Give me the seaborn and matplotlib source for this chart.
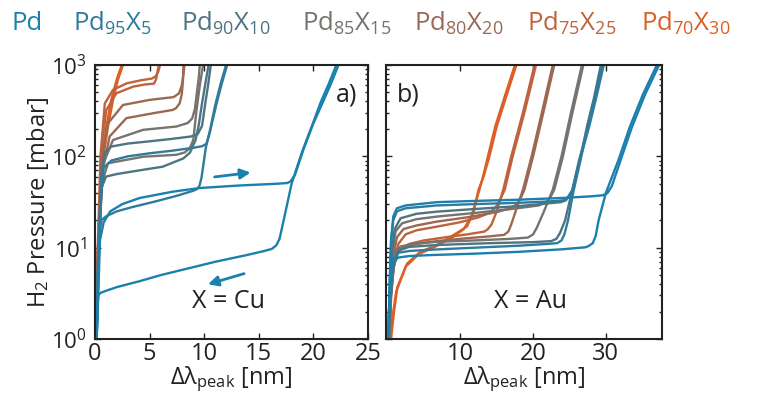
import matplotlib
matplotlib.use('Agg')
import matplotlib.pyplot as plt
import seaborn as sns
from matplotlib.ticker import LogLocator, NullFormatter, FixedLocator

sns.set_style('ticks')
plt.rcParams['font.family'] = ['Open Sans', 'DejaVu Sans']
plt.rcParams['mathtext.default'] = 'regular'

# ---------------- legend ----------------
labels = ['Pd', 'Pd$_{95}$X$_{5}$', 'Pd$_{90}$X$_{10}$', 'Pd$_{85}$X$_{15}$',
          'Pd$_{80}$X$_{20}$', 'Pd$_{75}$X$_{25}$', 'Pd$_{70}$X$_{30}$']
colors = ['#1b80ad', '#2f7b9b', '#4e7383', '#77736f', '#9b6853', '#c0623c', '#db5f26']

# ---------------- panel a: X = Cu ----------------
cu_pd_abs_x = [0.15, 0.3, 0.45, 0.8, 1.4, 2.5, 4.1, 7.1, 9.6, 13.3, 16.5, 17.6, 17.9, 18.3, 19.1, 20.0, 20.9, 21.6, 22.3]
cu_pd_abs_y = [1, 3, 12, 19, 25, 30, 35, 41, 45, 48, 50, 51, 53, 62, 120, 230, 400, 620, 1000]
cu_pd_des_x = [22.1, 21.4, 20.7, 19.9, 19.0, 18.4, 18.0, 17.6, 17.1, 16.9, 16.6, 16.2, 15.5, 13.9, 11.0, 8.7, 6.0, 4.1, 2.0, 1.1, 0.5, 0.3, 0.2, 0.15]
cu_pd_des_y = [1000, 620, 400, 220, 115, 70, 50, 30, 16, 12.5, 10.6, 9.7, 9.2, 8.3, 7.0, 6.0, 5.0, 4.3, 3.7, 3.4, 3.2, 3.0, 2.0, 1]

cu_95_abs_x = [0.15, 0.3, 0.5, 0.8, 1.5, 3, 5, 7, 9, 9.8, 10.2, 10.5, 11.1, 11.6, 12.1]
cu_95_abs_y = [1, 5, 30, 75, 90, 100, 108, 115, 124, 129, 137, 180, 365, 620, 1000]
cu_95_des_x = [12.0, 11.5, 11.0, 10.5, 10.15, 9.95, 9.75, 9.55, 9.3, 9.0, 7.5, 5.5, 3.5, 2.0, 1.0, 0.6, 0.4, 0.25, 0.15]
cu_95_des_y = [1000, 620, 360, 185, 125, 85, 58, 47, 43.5, 42, 37, 32, 28, 25, 22, 20, 15, 5, 1]

cu_90_abs_x = [0.15, 0.3, 0.55, 0.9, 1.5, 3, 5, 7, 8.8, 9.4, 9.8, 10.1, 10.4, 10.6]
cu_90_abs_y = [1, 8, 60, 110, 128, 138, 146, 155, 165, 175, 215, 380, 650, 1000]
cu_90_des_x = [10.4, 10.1, 9.8, 9.5, 9.2, 8.7, 8.1, 7.4, 6.2, 4.0, 2.0, 1.0, 0.6, 0.35, 0.15]
cu_90_des_y = [1000, 620, 380, 220, 150, 110, 95, 88, 77, 70, 64, 60, 45, 8, 1]

cu_85_abs_x = [0.12, 0.3, 0.7, 1.65, 4.4, 7.45, 8.5, 8.9, 9.15, 9.35, 9.5, 9.6]
cu_85_abs_y = [1, 10, 80, 151, 195, 212, 232, 260, 330, 520, 720, 1000]
cu_85_des_x = [9.9, 9.6, 9.3, 9.0, 8.67, 8.2, 7.45, 4.4, 1.19, 0.6, 0.3, 0.12]
cu_85_des_y = [1000, 600, 322, 151, 122, 110, 104, 99, 84, 50, 8, 1]

cu_80_abs_x = [0.1, 0.28, 0.6, 1.19, 2.56, 5.0, 7.2, 7.7, 7.95, 8.1, 8.2]
cu_80_abs_y = [1, 10, 90, 230, 365, 415, 445, 490, 600, 800, 1000]
cu_80_des_x = [8.1, 8.06, 7.95, 7.75, 7.4, 7.1, 5.3, 2.87, 1.34, 0.7, 0.3, 0.1]
cu_80_des_y = [1000, 690, 480, 380, 335, 322, 296, 262, 165, 70, 8, 1]

cu_75_abs_x = [0.1, 0.25, 0.5, 0.9, 1.65, 2.9, 4.2, 5.2, 5.55, 5.8, 5.95]
cu_75_abs_y = [1, 10, 100, 380, 535, 630, 680, 710, 750, 850, 1000]
cu_75_des_x = [5.85, 5.75, 5.6, 5.4, 4.5, 3.5, 1.95, 1.03, 0.6, 0.3, 0.1]
cu_75_des_y = [1000, 880, 700, 625, 610, 580, 490, 320, 120, 12, 1]

cu_70_abs_x = [0.1, 0.2, 0.43, 0.73, 1.19, 1.65, 2.1, 2.56]
cu_70_abs_y = [1, 4, 17, 91, 212, 415, 690, 1000]
cu_70_des_x = [2.45, 2.0, 1.5, 1.05, 0.62, 0.35, 0.15, 0.05]
cu_70_des_y = [1000, 700, 420, 215, 90, 17, 4, 1]

# ---------------- panel b: X = Au ----------------
au_pd_abs_x = [0.15, 0.3, 0.5, 0.8, 1.3, 2.5, 6.8, 12, 18, 24, 28, 29.6, 30.2, 30.8, 32.0, 33.6, 35.4, 37.3]
au_pd_abs_y = [1, 4, 12, 22, 27, 29, 31.5, 32.5, 33.5, 35, 36.5, 37.5, 39.5, 47, 90, 212, 480, 1000]
au_pd_des_x = [37.0, 35.1, 33.3, 31.7, 30.0, 29.0, 28.6, 28.2, 27.6, 27.2, 24, 18, 12, 6, 3, 1.5, 0.8, 0.4, 0.2, 0.1]
au_pd_des_y = [1000, 480, 212, 90, 40, 20, 13.5, 11.2, 10.4, 10.1, 9.6, 9.0, 8.6, 8.3, 8.1, 7.8, 7, 4, 2, 1]

au_95_abs_x = [0.15, 0.3, 0.5, 0.8, 1.3, 2.5, 6.8, 12, 18, 22, 24.2, 24.8, 25.4, 26.4, 27.7, 28.7, 29.7]
au_95_abs_y = [1, 4, 12, 20, 25, 27, 29, 30, 31, 32, 33, 36, 43, 90, 212, 450, 1000]
au_95_des_x = [29.5, 28.5, 27.5, 26.5, 25.5, 24.8, 24.3, 23.9, 23.3, 22, 18, 12, 6, 3, 1.5, 0.8, 0.4, 0.2, 0.1]
au_95_des_y = [1000, 450, 212, 90, 40, 20, 14, 12, 11.2, 11.0, 10.5, 10.0, 9.5, 9.2, 8.8, 7.5, 4, 2, 1]

au_90_abs_x = [0.2, 0.35, 0.6, 1.0, 1.8, 4, 6.8, 12, 18, 22, 23.8, 24.5, 25.0, 25.4, 26.3, 27.6, 29.5]
au_90_abs_y = [1, 3, 9, 16, 21, 23.5, 24.8, 26.5, 28.5, 30.5, 31.5, 33, 37, 43, 90, 212, 1000]
au_90_des_x = [29.3, 28.4, 27.4, 26.4, 25.3, 24.4, 23.7, 23.2, 22.5, 20, 14, 6.8, 3, 1.5, 0.8, 0.4, 0.2]
au_90_des_y = [1000, 450, 212, 90, 40, 20, 14.5, 12.5, 11.8, 11.5, 11.2, 10.7, 10.2, 9.3, 6, 2.5, 1]

au_85_abs_x = [0.2, 0.4, 0.7, 1.1, 2.0, 4, 6.8, 12, 17, 20.8, 21.8, 22.4, 22.9, 24.1, 25.4, 26.9]
au_85_abs_y = [1, 3, 9, 15, 18.5, 20.5, 21.9, 24, 26.5, 29, 31.5, 36, 43, 100, 300, 1000]
au_85_des_x = [26.7, 25.2, 23.9, 22.7, 21.4, 20.5, 20.0, 19.3, 17, 12, 6.8, 3.5, 1.8, 1.0, 0.6, 0.35, 0.2]
au_85_des_y = [1000, 300, 100, 43, 24, 16.5, 14, 12.9, 12.5, 12, 11.6, 11, 10.3, 9, 5.5, 2.5, 1]

au_80_abs_x = [0.25, 0.45, 0.8, 1.3, 2.2, 4, 6.8, 11, 15, 16.9, 17.8, 18.3, 18.8, 20.0, 21.4, 22.9]
au_80_abs_y = [1, 3, 8, 13, 16, 17.5, 19.3, 21.5, 24.5, 27, 30, 35, 43, 100, 300, 1000]
au_80_des_x = [22.7, 21.2, 19.8, 18.6, 17.6, 17.0, 16.6, 16.0, 14, 10, 6.8, 4, 2, 1.2, 0.7, 0.4, 0.25]
au_80_des_y = [1000, 300, 100, 43, 25, 18, 15, 13.8, 13.3, 12.5, 11.8, 11, 10, 8.5, 5, 2.5, 1]

au_75_abs_x = [0.3, 0.5, 0.9, 1.5, 2.5, 4, 6.8, 10, 12.5, 14.0, 14.9, 15.5, 16.1, 17.2, 18.8, 20.4]
au_75_abs_y = [1, 3, 7, 11, 14, 15.5, 17, 19, 21.5, 24, 28, 34, 43, 100, 300, 1000]
au_75_des_x = [20.2, 18.6, 17.0, 15.9, 15.0, 14.3, 13.8, 13.3, 11, 8, 5, 3, 1.6, 0.9, 0.5, 0.3]
au_75_des_y = [1000, 300, 100, 43, 25, 18, 16, 15, 14, 13, 12, 11, 9.5, 6.5, 3, 1]

au_70_abs_x = [0.5, 0.9, 1.36, 2.7, 4.5, 6.8, 9.1, 10.9, 11.8, 12.5, 13.2, 14.0, 15.0, 16.3, 17.7]
au_70_abs_y = [1, 2, 3.7, 6.7, 9, 10.7, 13.8, 17, 24, 43, 60, 100, 212, 450, 1000]
au_70_des_x = [17.5, 16.1, 14.8, 13.8, 13.0, 12.3, 11.5, 10.5, 8.8, 6.5, 4.3, 2.5, 1.2, 0.8, 0.4]
au_70_des_y = [1000, 450, 212, 100, 55, 35, 22, 16, 12.8, 10.2, 8.5, 6.2, 3.3, 2, 1]

xticks_a = [0, 5, 10, 15, 20, 25]
xticks_b = [10, 20, 30]

branches_a = [
    (cu_pd_abs_x, cu_pd_abs_y, 0), (cu_pd_des_x, cu_pd_des_y, 0),
    (cu_95_abs_x, cu_95_abs_y, 1), (cu_95_des_x, cu_95_des_y, 1),
    (cu_90_abs_x, cu_90_abs_y, 2), (cu_90_des_x, cu_90_des_y, 2),
    (cu_85_abs_x, cu_85_abs_y, 3), (cu_85_des_x, cu_85_des_y, 3),
    (cu_80_abs_x, cu_80_abs_y, 4), (cu_80_des_x, cu_80_des_y, 4),
    (cu_75_abs_x, cu_75_abs_y, 5), (cu_75_des_x, cu_75_des_y, 5),
    (cu_70_abs_x, cu_70_abs_y, 6), (cu_70_des_x, cu_70_des_y, 6),
]
branches_b = [
    (au_pd_abs_x, au_pd_abs_y, 0), (au_pd_des_x, au_pd_des_y, 0),
    (au_95_abs_x, au_95_abs_y, 1), (au_95_des_x, au_95_des_y, 1),
    (au_90_abs_x, au_90_abs_y, 2), (au_90_des_x, au_90_des_y, 2),
    (au_85_abs_x, au_85_abs_y, 3), (au_85_des_x, au_85_des_y, 3),
    (au_80_abs_x, au_80_abs_y, 4), (au_80_des_x, au_80_des_y, 4),
    (au_75_abs_x, au_75_abs_y, 5), (au_75_des_x, au_75_des_y, 5),
    (au_70_abs_x, au_70_abs_y, 6), (au_70_des_x, au_70_des_y, 6),
]

W, H = 758, 394
fig = plt.figure(figsize=(W / 100, H / 100), dpi=100)
ax1 = fig.add_axes([95 / W, 55 / H, 273 / W, 274 / H])
ax2 = fig.add_axes([386 / W, 55 / H, 276 / W, 274 / H])

for ax, branches in ((ax1, branches_a), (ax2, branches_b)):
    for bx, by, ci in reversed(branches):
        sns.lineplot(x=bx, y=by, sort=False, estimator=None, color=colors[ci],
                     linewidth=1.7, ax=ax, legend=False)
    ax.set_yscale('log')
    ax.set_ylim(1, 1000)
    ax.yaxis.set_major_locator(LogLocator(base=10, numticks=10))
    ax.yaxis.set_minor_locator(LogLocator(base=10, subs=range(2, 10), numticks=20))
    ax.yaxis.set_minor_formatter(NullFormatter())
    ax.tick_params(which='both', direction='in', top=True, right=True,
                   colors='#222222', width=1.0)
    ax.tick_params(axis='x', labelsize=17, pad=2)
    ax.tick_params(axis='y', labelsize=16, pad=6)
    ax.tick_params(which='major', length=4)
    ax.tick_params(which='minor', length=2)
    for s in ax.spines.values():
        s.set_linewidth(1.5)
        s.set_color('#222222')
    ax.set_xlabel(r'Δλ$_{peak}$ [nm]', fontsize=17, labelpad=-1, color='#222222')
    ax.set_ylabel('')

ax1.set_xlim(0, 25)
ax1.xaxis.set_major_locator(FixedLocator(xticks_a))
ax2.set_xlim(-0.2, 37.7)
ax2.xaxis.set_major_locator(FixedLocator(xticks_b))
ax2.tick_params(axis='y', labelleft=False)
ax1.set_ylabel('H$_{2}$ Pressure [mbar]', fontsize=17, labelpad=0, color='#222222')

ax1.text(0.96, 0.89, 'a)', transform=ax1.transAxes, ha='right', va='center',
         fontsize=18, color='#222222')
ax2.text(0.04, 0.89, 'b)', transform=ax2.transAxes, ha='left', va='center',
         fontsize=18, color='#222222')
ax1.text(12.2, 2.6, 'X = Cu', ha='center', va='center', fontsize=18, color='#222222')
ax2.text(19.7, 2.6, 'X = Au', ha='center', va='center', fontsize=18, color='#222222')

arrow_kw = dict(arrowstyle='-|>,head_length=0.6,head_width=0.3', color=colors[0], lw=2)
ax1.annotate('', xy=(14.5, 67), xytext=(10.7, 59), arrowprops=arrow_kw)
ax1.annotate('', xy=(10.1, 3.9), xytext=(13.9, 5.3), arrowprops=arrow_kw)

legend_x = [12, 73, 181, 302, 414, 527, 641]
for lx, lab, c in zip(legend_x, labels, colors):
    fig.text(lx / W, 1 - 23 / H, lab, color=c, fontsize=18.5, ha='left', va='center')

fig.savefig('out.png', dpi=100)
